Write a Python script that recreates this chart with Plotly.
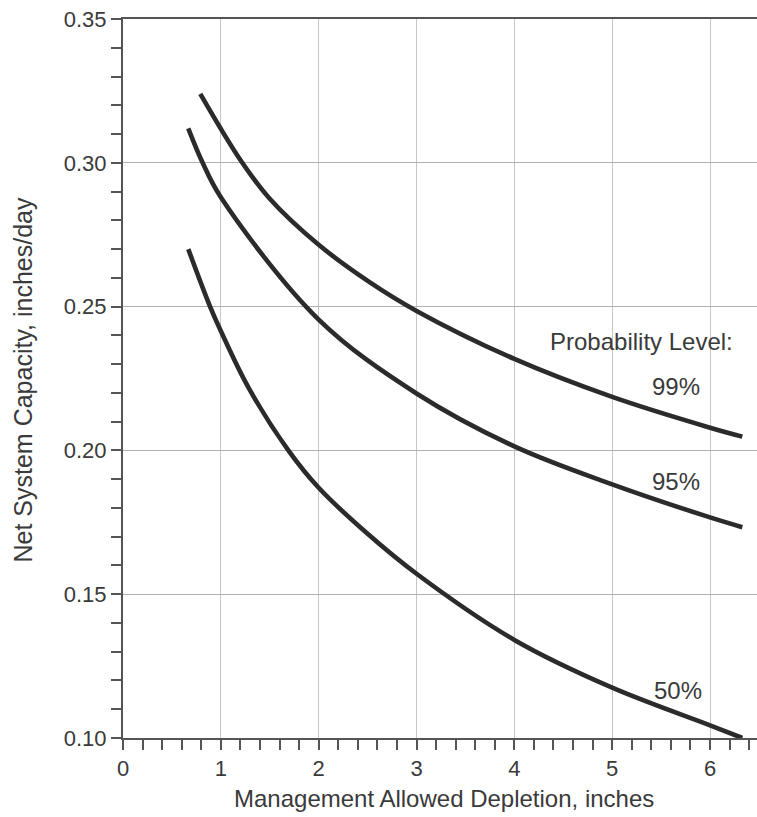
import plotly.graph_objects as go

# Data
x99 = [0.79, 1.2, 1.5, 2.0, 2.52, 3.0, 4.0, 5.0, 6.0, 6.33]
y99 = [0.324, 0.301, 0.2875, 0.2715, 0.2585, 0.2485, 0.2318, 0.2186, 0.2079, 0.2048]

x95 = [0.667, 0.814, 1.0, 2.0, 3.0, 4.0, 5.0, 6.0, 6.33]
y95 = [0.312, 0.300, 0.288, 0.2455, 0.2198, 0.2014, 0.1882, 0.1767, 0.1733]

x50 = [0.667, 0.89, 1.0, 1.28, 1.69, 2.0, 2.5, 3.0, 4.0, 5.0, 6.0, 6.33]
y50 = [0.270, 0.250, 0.2415, 0.222, 0.200, 0.187, 0.171, 0.1571, 0.1341, 0.1175, 0.1044, 0.1000]

series = [("99%", x99, y99), ("95%", x95, y95), ("50%", x50, y50)]
label_pos = {"99%": (5.92, 0.2222), "95%": (5.92, 0.1893), "50%": (5.94, 0.1166)}

x_title = "Management Allowed Depletion, inches"
y_title = "Net System Capacity, inches/day"
legend_title = "Probability Level:"

FONT = "Liberation Sans, Arial, sans-serif"
TXT = "#3a3a3a"
AX = "#555555"

fig = go.Figure()
for name, xs, ys in series:
    fig.add_trace(go.Scatter(x=xs, y=ys, mode="lines", name=name,
                             line=dict(color="#2b2b2b", width=4.6, shape="spline", smoothing=1.0),
                             showlegend=False, hoverinfo="skip"))

for name, (lx, ly) in label_pos.items():
    fig.add_annotation(x=lx, y=ly, text=name, showarrow=False, xanchor="right", yanchor="middle",
                       font=dict(family=FONT, size=24, color=TXT))

fig.add_annotation(x=6.25, y=0.238, text=legend_title, showarrow=False, xanchor="right", yanchor="middle",
                   font=dict(family=FONT, size=24, color=TXT))

fig.add_annotation(xref="paper", yref="paper", x=(444 - 123) / 634, y=0, yshift=-60,
                   text=x_title, showarrow=False, xanchor="center", yanchor="middle",
                   font=dict(family=FONT, size=24, color=TXT))
fig.add_annotation(xref="paper", yref="paper", x=0, xshift=-101, y=0.5, yshift=-2,
                   text=y_title, showarrow=False, textangle=-90, xanchor="center", yanchor="middle",
                   font=dict(family=FONT, size=25, color=TXT))

fig.update_layout(
    width=757, height=817,
    margin=dict(l=123, r=0, t=19, b=79),
    paper_bgcolor="white", plot_bgcolor="white",
    font=dict(family=FONT, size=22, color=TXT),
    xaxis=dict(range=[0, 6.48], tick0=0, dtick=1, showgrid=True, gridcolor="#c6c6c6", gridwidth=1.2,
               showline=True, linecolor=AX, linewidth=2, mirror=True,
               ticks="outside", ticklen=10, tickwidth=2, tickcolor=AX,
               minor=dict(dtick=0.2, ticks="outside", ticklen=10, tickwidth=2, tickcolor=AX, showgrid=False),
               zeroline=False, tickfont=dict(size=22, color=TXT, family=FONT), fixedrange=True),
    yaxis=dict(range=[0.10, 0.35], tick0=0.10, dtick=0.05, tickformat=".2f",
               showgrid=True, gridcolor="#b0b0b0", gridwidth=1.2,
               showline=True, linecolor=AX, linewidth=2, mirror=False,
               ticks="outside", ticklen=10, tickwidth=2, tickcolor=AX,
               minor=dict(dtick=0.01, ticks="outside", ticklen=10, tickwidth=2, tickcolor=AX, showgrid=False),
               zeroline=False, tickfont=dict(size=22, color=TXT, family=FONT), fixedrange=True),
)

fig.write_html("out.html")
